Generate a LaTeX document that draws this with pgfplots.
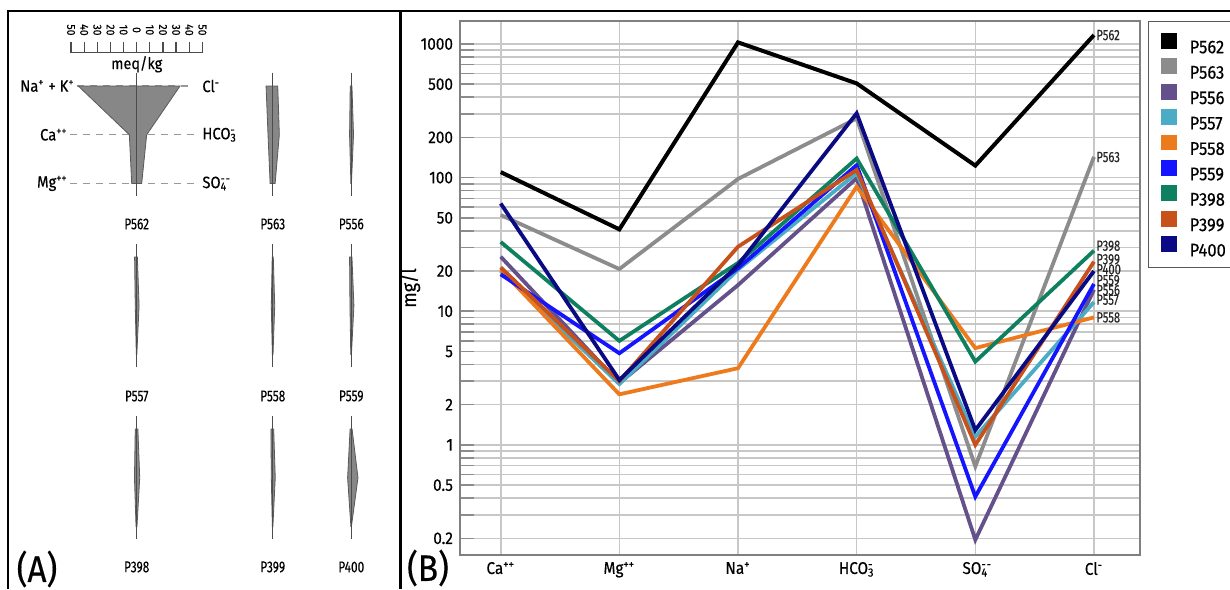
\documentclass[border=0pt]{standalone}
\usepackage{fontspec}
\setmainfont{Fira Sans}[FakeStretch=0.9, FakeBold=0.35]
\newfontfamily\condfont{Fira Sans}[FakeStretch=0.76, FakeBold=0.3]
\usepackage{pgfplots}
\pgfplotsset{compat=1.18}
\definecolor{cP562}{HTML}{000000}
\definecolor{cP563}{HTML}{8C8C8C}
\definecolor{cP556}{HTML}{64508A}
\definecolor{cP557}{HTML}{4BACC6}
\definecolor{cP558}{HTML}{EE7A1E}
\definecolor{cP559}{HTML}{1414FF}
\definecolor{cP398}{HTML}{0E8060}
\definecolor{cP399}{HTML}{C8501A}
\definecolor{cP400}{HTML}{0A0A85}
\pgfplotsset{
  c1/.style={},
  c2/.style={x filter/.expression={x+103.6}},
  c3/.style={x filter/.expression={x+163.4}},
  r1/.style={y filter/.expression={y+86}},
  r2/.style={y filter/.expression={y+257}},
  r3/.style={y filter/.expression={y+429}},
  stiff/.style={fill=black!47, draw=black!65, line width=0.4pt},
}
\newcommand{\fs}[1]{\fontsize{#1}{#1}\selectfont}
\newcommand{\sups}[1]{\textsuperscript{#1}}
\tikzset{lbl/.style={anchor=west, inner sep=1pt, font=\condfont\fs{7.4}, text=black!85}}
\begin{document}
\begin{tikzpicture}[x=0.5pt,y=0.5pt]
\useasboundingbox (0,0) rectangle (1230,589);
% frame
\draw[line width=1.4pt] (8,0) -- (8,578) -- (1232,578);
\draw[line width=1.4pt] (400.5,0) -- (400.5,578);
\node[font=\fs{18.5}] at (37,20) {(A)};
\node[font=\fs{18.5}] at (428,21) {(B)};

% ---------------- Panel A: Stiff diagrams (meq/kg) ----------------
\begin{axis}[at={(4pt,0pt)}, anchor=south west, scale only axis,
  width=196pt, height=289.5pt, xmin=-98, xmax=200.5, ymin=10, ymax=589,
  y dir=reverse, hide axis, clip=false]
% scale
\draw[black!70, line width=0.6pt] (axis cs:-50,52.7) -- (axis cs:50,52.7);
\pgfplotsinvokeforeach{-50,-40,...,50}{
  \draw[black!70, line width=0.6pt] (axis cs:#1,52.7) -- (axis cs:#1,41.7);
}
\pgfplotsinvokeforeach{-50,-40,-30,-20,-10}{
  \node[rotate=-90, font=\fs{5.8}, inner sep=0pt] at (axis cs:#1,30) {\pgfmathparse{int(-#1)}\pgfmathresult};
}
\pgfplotsinvokeforeach{0,10,20,30,40,50}{
  \node[rotate=-90, font=\fs{5.8}, inner sep=0pt] at (axis cs:#1,30) {#1};
}
\node[font=\fs{8}] at (axis cs:0,64.3) {meq/kg};
% dashed guides
\draw[black!40, line width=0.6pt, dash pattern=on 3.3pt off 3.2pt] (axis cs:-45.5,86) -- (axis cs:43.5,86);
\draw[black!40, line width=0.6pt, dash pattern=on 3.3pt off 3.2pt] (axis cs:-50.5,134.75) -- (axis cs:43.5,134.75);
\draw[black!40, line width=0.6pt, dash pattern=on 3.3pt off 3.2pt] (axis cs:-50.5,183.5) -- (axis cs:43.5,183.5);
\node[anchor=east, font=\fs{8.2}, inner sep=1pt] at (axis cs:-45.5,86) {Na\sups{+} + K\sups{+}};
\node[anchor=east, font=\fs{8.2}, inner sep=1pt] at (axis cs:-50.8,134.75) {Ca\sups{++}};
\node[anchor=east, font=\fs{8.2}, inner sep=1pt] at (axis cs:-50.8,183.5) {Mg\sups{++}};
\node[anchor=west, font=\fs{8.2}, inner sep=1pt] at (axis cs:48.2,86) {Cl\sups{-}};
\node[anchor=west, font=\fs{8.2}, inner sep=1pt] at (axis cs:48.2,134.75) {HCO\rlap{\sups{-}}\textsubscript{3}};
\node[anchor=west, font=\fs{8.2}, inner sep=1pt] at (axis cs:48.2,183.5) {SO\rlap{\sups{-\kern0.5pt-}}\textsubscript{4}};
% polygons: (-Na,top) (-Ca,mid) (-Mg,bottom) (SO4,bottom) (HCO3,mid) (Cl,top)
\addplot[stiff,c1,r1] coordinates {(-44.5,0) (-5.6,48.75) (-3.8,97.5) (3.8,97.5) (7.6,48.75) (33,0)} -- cycle;
\addplot[stiff,c2,r1] coordinates {(-5.1,0) (-3.6,48.75) (-2.0,97.5) (1.8,97.5) (5.0,48.75) (3.8,0)} -- cycle;
\addplot[stiff,c3,r1] coordinates {(-0.8,0) (-1.3,48.75) (-0.3,97.5) (0.1,97.5) (1.7,48.75) (0.5,0)} -- cycle;
\addplot[stiff,c1,r2] coordinates {(-1.6,0) (-1.1,48.75) (-0.3,97.5) (0.1,97.5) (1.8,48.75) (0.5,0)} -- cycle;
\addplot[stiff,c2,r2] coordinates {(-0.4,0) (-1.1,48.75) (-0.3,97.5) (0.2,97.5) (1.5,48.75) (0.4,0)} -- cycle;
\addplot[stiff,c3,r2] coordinates {(-1.3,0) (-1.0,48.75) (-0.4,97.5) (0.1,97.5) (2.0,48.75) (0.5,0)} -- cycle;
\addplot[stiff,c1,r3] coordinates {(-1.1,0) (-1.7,48.75) (-0.5,97.5) (0.2,97.5) (2.3,48.75) (0.9,0)} -- cycle;
\addplot[stiff,c2,r3] coordinates {(-1.4,0) (-1.1,48.75) (-0.3,97.5) (0.1,97.5) (1.9,48.75) (0.7,0)} -- cycle;
\addplot[stiff,c3,r3] coordinates {(-0.9,0) (-2.8,48.75) (-0.3,97.5) (0.1,97.5) (5.1,48.75) (0.6,0)} -- cycle;
% centre lines
\draw[black!70, line width=0.5pt] (axis cs:0,72.7) -- (axis cs:0,195.5);
\draw[black!70, line width=0.5pt] (axis cs:103.6,72.7) -- (axis cs:103.6,195.5);
\draw[black!70, line width=0.5pt] (axis cs:163.4,72.7) -- (axis cs:163.4,195.5);
\draw[black!70, line width=0.5pt] (axis cs:0,243.7) -- (axis cs:0,366.5);
\draw[black!70, line width=0.5pt] (axis cs:103.6,243.7) -- (axis cs:103.6,366.5);
\draw[black!70, line width=0.5pt] (axis cs:163.4,243.7) -- (axis cs:163.4,366.5);
\draw[black!70, line width=0.5pt] (axis cs:0,415.7) -- (axis cs:0,538.5);
\draw[black!70, line width=0.5pt] (axis cs:103.6,415.7) -- (axis cs:103.6,538.5);
\draw[black!70, line width=0.5pt] (axis cs:163.4,415.7) -- (axis cs:163.4,538.5);
% sample names
\node[font=\condfont\fs{7.8}] at (axis cs:0,224) {P562};
\node[font=\condfont\fs{7.8}] at (axis cs:103.6,224) {P563};
\node[font=\condfont\fs{7.8}] at (axis cs:163.4,224) {P556};
\node[font=\condfont\fs{7.8}] at (axis cs:0,396) {P557};
\node[font=\condfont\fs{7.8}] at (axis cs:103.6,396) {P558};
\node[font=\condfont\fs{7.8}] at (axis cs:163.4,396) {P559};
\node[font=\condfont\fs{7.8}] at (axis cs:0,567) {P398};
\node[font=\condfont\fs{7.8}] at (axis cs:103.6,567) {P399};
\node[font=\condfont\fs{7.8}] at (axis cs:163.4,567) {P400};
\end{axis}

% ---------------- Panel B: Schoeller diagram (mg/l) ----------------
\begin{axis}[at={(230pt,17pt)}, anchor=south west, scale only axis,
  width=340pt, height=267pt,
  ymode=log, ymin=0.15, ymax=1486, xmin=-0.343, xmax=5.388,
  xtick={0,1,2,3,4,5},
  xticklabels={Ca\sups{++}, Mg\sups{++}, Na\sups{+},
     HCO\rlap{\sups{-}}\textsubscript{3}, SO\rlap{\sups{-\kern0.5pt-}}\textsubscript{4}, Cl\sups{-}},
  ytick={0.2,0.5,1,2,5,10,20,50,100,200,500,1000},
  yticklabels={0.2,0.5,1,2,5,10,20,50,100,200,500,1000},
  minor ytick={0.3,0.4,0.6,0.7,0.8,0.9,3,4,6,7,8,9,30,40,60,70,80,90,300,400,600,700,800,900},
  xmajorgrids, ymajorgrids, yminorgrids,
  major grid style={black!22, line width=0.8pt},
  minor grid style={black!22, line width=0.8pt},
  ytick pos=left, tick align=inside,
  major tick length=7pt, minor tick length=7pt,
  ytick style={black!45, line width=0.8pt},
  xtick style={draw=none},
  axis line style={black!50, line width=0.6pt},
  tick label style={font=\fs{8.5}},
  ylabel={mg/l}, label style={font=\fs{8.5}},
  every axis y label/.style={at={(rel axis cs:-0.0735,0.5)}, rotate=90, anchor=center},
  legend style={at={(rel axis cs:1.0118,1)}, anchor=north west, draw=black!65, line width=0.65pt,
     inner xsep=6pt, inner ysep=5.6pt, font=\fs{9.2},
     nodes={inner sep=0pt, text height=6.4pt, text depth=0pt},
     row sep=2.55pt, /tikz/every odd column/.append style={column sep=6.5pt}},
  legend cell align=left,
  legend image code/.code={\fill[#1] (0pt,0pt) rectangle (6pt,6pt);},
]
\addplot[cP562, line width=2pt] coordinates {(0,110) (1,41) (2,1028) (3,507) (4,123) (5,1166)};
\addlegendentry{P562}
\addplot[cP563, line width=1.9pt] coordinates {(0,52.5) (1,20.7) (2,97.7) (3,277) (4,0.69) (5,143)};
\addlegendentry{P563}
\addplot[cP556, line width=1.9pt] coordinates {(0,25.6) (1,2.9) (2,15.7) (3,99) (4,0.195) (5,14.5)};
\addlegendentry{P556}
\addplot[cP557, line width=1.9pt] coordinates {(0,20) (1,2.85) (2,20.5) (3,108) (4,1.15) (5,11.7)};
\addlegendentry{P557}
\addplot[cP558, line width=1.9pt] coordinates {(0,20.5) (1,2.39) (2,3.75) (3,85.5) (4,5.3) (5,9.0)};
\addlegendentry{P558}
\addplot[cP559, line width=1.9pt] coordinates {(0,18.9) (1,4.85) (2,21) (3,124) (4,0.41) (5,16)};
\addlegendentry{P559}
\addplot[cP398, line width=1.9pt] coordinates {(0,33) (1,6.0) (2,23) (3,139) (4,4.2) (5,28.4)};
\addlegendentry{P398}
\addplot[cP399, line width=1.9pt] coordinates {(0,21.3) (1,3.0) (2,30.4) (3,114) (4,1.0) (5,23.5)};
\addlegendentry{P399}
\addplot[cP400, line width=1.9pt] coordinates {(0,64) (1,3.06) (2,22.2) (3,303) (4,1.29) (5,20)};
\addlegendentry{P400}
\node[lbl] at (axis cs:5,1166) {P562};
\node[lbl] at (axis cs:5,142.6) {P563};
\node[lbl] at (axis cs:5,30.9) {P398};
\node[lbl] at (axis cs:5,24.5) {P399};
\node[lbl] at (axis cs:5,20.6) {P400};
\node[lbl] at (axis cs:5,17.1) {P559};
\node[lbl] at (axis cs:5,14.4) {P556};
\node[lbl] at (axis cs:5,12.2) {P557};
\node[lbl] at (axis cs:5,9.0) {P558};
\end{axis}
\end{tikzpicture}
\end{document}
